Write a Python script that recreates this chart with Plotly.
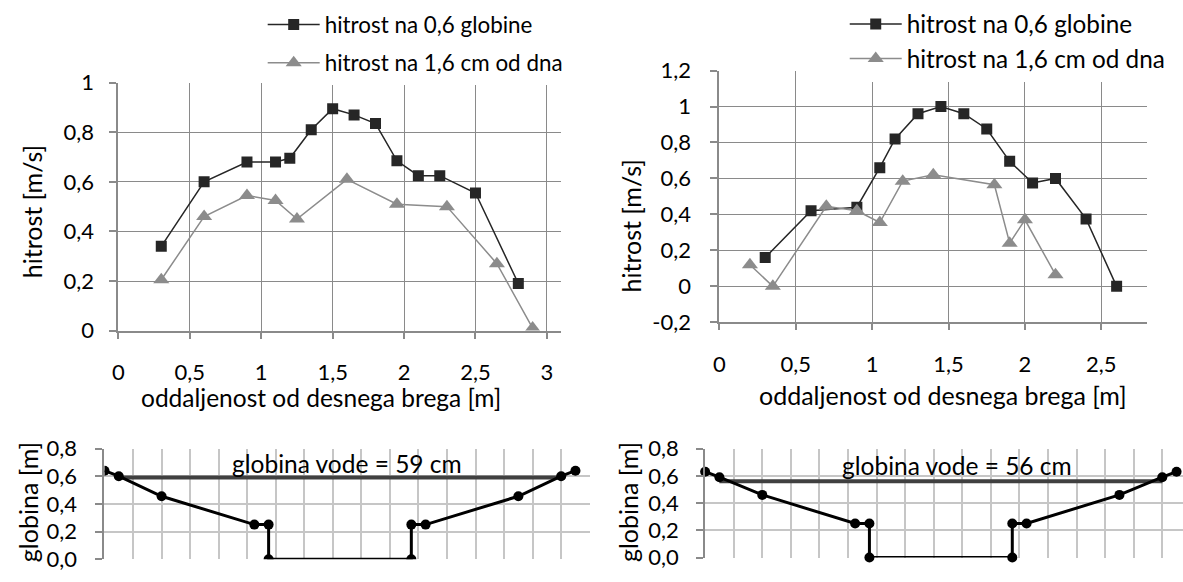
import plotly.graph_objects as go

W, H = 1183, 582

# ---------------- data ----------------
# top-left chart (velocity profile, first section)
x_left_06 = [0.3, 0.6, 0.9, 1.1, 1.2, 1.35, 1.5, 1.65, 1.8, 1.95, 2.1, 2.25, 2.5, 2.8]
v_left_06 = [0.34, 0.60, 0.68, 0.68, 0.695, 0.81, 0.895, 0.87, 0.835, 0.685, 0.625, 0.625, 0.555, 0.19]
x_left_16 = [0.3, 0.6, 0.9, 1.1, 1.25, 1.6, 1.95, 2.3, 2.65, 2.9]
v_left_16 = [0.205, 0.46, 0.545, 0.525, 0.45, 0.61, 0.51, 0.50, 0.27, 0.01]

# top-right chart (velocity profile, second section)
x_right_06 = [0.3, 0.6, 0.9, 1.05, 1.15, 1.3, 1.45, 1.6, 1.75, 1.9, 2.05, 2.2, 2.4, 2.6]
v_right_06 = [0.16, 0.42, 0.44, 0.66, 0.82, 0.96, 1.0, 0.96, 0.875, 0.695, 0.575, 0.6, 0.375, 0.0]
x_right_16 = [0.2, 0.35, 0.7, 0.9, 1.05, 1.2, 1.4, 1.8, 1.9, 2.0, 2.2]
v_right_16 = [0.12, 0.0, 0.445, 0.42, 0.355, 0.585, 0.62, 0.565, 0.24, 0.37, 0.065]

# bottom cross-sections
sec_x = [0, 0.1, 0.4, 1.05, 1.15, 1.15, 2.15, 2.15, 2.25, 2.9, 3.2, 3.3]
sec_y_left = [0.64, 0.6, 0.455, 0.25, 0.25, 0, 0, 0.25, 0.25, 0.455, 0.6, 0.64]
sec_y_right = [0.63, 0.59, 0.46, 0.25, 0.25, 0, 0, 0.25, 0.25, 0.46, 0.59, 0.63]
water_x = [0.1, 3.2]
water_left = 0.59
water_right = 0.56

name_06 = "hitrost na 0,6 globine"
name_16 = "hitrost na 1,6 cm od dna"

tl_xticks = [0, 0.5, 1, 1.5, 2, 2.5, 3]
tl_xtext = ["0", "0,5", "1", "1,5", "2", "2,5", "3"]
tl_yticks = [0, 0.2, 0.4, 0.6, 0.8, 1]
tl_ytext = ["0", "0,2", "0,4", "0,6", "0,8", "1"]
tr_xticks = [0, 0.5, 1, 1.5, 2, 2.5]
tr_xtext = ["0", "0,5", "1", "1,5", "2", "2,5"]
tr_yticks = [-0.2, 0, 0.2, 0.4, 0.6, 0.8, 1, 1.2]
tr_ytext = ["-0,2", "0", "0,2", "0,4", "0,6", "0,8", "1", "1,2"]
b_yticks = [0, 0.2, 0.4, 0.6, 0.8]
b_ytext = ["0,0", "0,2", "0,4", "0,6", "0,8"]
b_xticks = [round(0.2 * i, 1) for i in range(18)]

# ---------------- styling ----------------
FONT = "Lato"
DARK = "#262626"
GREY = "#8c8c8c"
GRID = "#8a8a8a"
LGRID = "#c6c6c6"


def fx(p):
    return p / W


def fy(p):
    return 1 - p / H


fig = go.Figure()

# top-left
fig.add_trace(go.Scatter(x=x_left_06, y=v_left_06, name=name_06, mode="lines+markers",
                         line=dict(color=DARK, width=1.5),
                         marker=dict(symbol="square", size=11, color=DARK),
                         xaxis="x", yaxis="y", legend="legend", legendgroup="a"))
fig.add_trace(go.Scatter(x=x_left_16, y=v_left_16, name=name_16, mode="lines+markers",
                         line=dict(color=GREY, width=1.5),
                         marker=dict(symbol="triangle-up", size=14, color=GREY),
                         xaxis="x", yaxis="y", legend="legend", legendgroup="b"))
# top-right
fig.add_trace(go.Scatter(x=x_right_06, y=v_right_06, name=name_06, mode="lines+markers",
                         line=dict(color=DARK, width=1.5),
                         marker=dict(symbol="square", size=11, color=DARK),
                         xaxis="x2", yaxis="y2", legend="legend2", legendgroup="c"))
fig.add_trace(go.Scatter(x=x_right_16, y=v_right_16, name=name_16, mode="lines+markers",
                         line=dict(color=GREY, width=1.5),
                         marker=dict(symbol="triangle-up", size=14, color=GREY),
                         xaxis="x2", yaxis="y2", legend="legend2", legendgroup="d"))
# bottom-left
fig.add_trace(go.Scatter(x=water_x, y=[water_left, water_left], mode="lines",
                         line=dict(color="#404040", width=4), showlegend=False,
                         xaxis="x3", yaxis="y3"))
fig.add_trace(go.Scatter(x=sec_x, y=sec_y_left, mode="lines+markers",
                         line=dict(color="black", width=3),
                         marker=dict(symbol="circle", size=10, color="black"),
                         showlegend=False, xaxis="x3", yaxis="y3"))
# bottom-right
fig.add_trace(go.Scatter(x=water_x, y=[water_right, water_right], mode="lines",
                         line=dict(color="#404040", width=4), showlegend=False,
                         xaxis="x4", yaxis="y4"))
fig.add_trace(go.Scatter(x=sec_x, y=sec_y_right, mode="lines+markers",
                         line=dict(color="black", width=3),
                         marker=dict(symbol="circle", size=10, color="black"),
                         showlegend=False, xaxis="x4", yaxis="y4", cliponaxis=False))

tickfont = dict(family=FONT, size=22, color="black")

top_x_common = dict(showgrid=True, gridcolor=GRID, gridwidth=1.3, zeroline=False,
                    showline=True, linecolor=GRID, linewidth=2,
                    ticks="outside", ticklen=6, tickcolor=GRID, tickwidth=1.5,
                    tickmode="array", tickfont=tickfont, ticklabelstandoff=15)
top_y_common = dict(showgrid=True, gridcolor=GRID, gridwidth=1.3, zeroline=False,
                    showline=True, linecolor=GRID, linewidth=2,
                    ticks="outside", ticklen=7, tickcolor=GRID, tickwidth=1.5,
                    tickmode="array", tickfont=tickfont)
bot_x_common = dict(showgrid=True, gridcolor=LGRID, gridwidth=1.5, zeroline=False,
                    showline=False, ticks="", showticklabels=False,
                    tickmode="array", tickvals=b_xticks)
bot_y_common = dict(showgrid=True, gridcolor=LGRID, gridwidth=1.5, zeroline=False,
                    showline=True, linecolor=GRID, linewidth=2,
                    ticks="outside", ticklen=7, tickcolor=GRID, tickwidth=1.5,
                    tickmode="array", tickvals=b_yticks, ticktext=b_ytext,
                    tickfont=tickfont, range=[0, 0.8])

fig.update_layout(
    width=W, height=H, margin=dict(l=0, r=0, t=0, b=0),
    paper_bgcolor="white", plot_bgcolor="white",
    font=dict(family=FONT, size=22, color="black"),
    xaxis=dict(domain=[fx(113), fx(558)], range=[0, 3.1], anchor="y",
               tickvals=tl_xticks, ticktext=tl_xtext, **top_x_common),
    yaxis=dict(domain=[fy(332), fy(72)], range=[0, 1], anchor="x",
               tickvals=tl_yticks, ticktext=tl_ytext, ticklabelstandoff=11, **top_y_common),
    xaxis2=dict(domain=[fx(717), fx(1147)], range=[0, 2.8], anchor="y2",
                tickvals=tr_xticks, ticktext=tr_xtext, **top_x_common),
    yaxis2=dict(domain=[fy(323.3), fy(59.3)], range=[-0.2, 1.2], anchor="x2",
                tickvals=tr_yticks, ticktext=tr_ytext, ticklabelstandoff=15, **top_y_common),
    xaxis3=dict(domain=[fx(99), fx(586.7)], range=[0, 3.4], anchor="y3", **bot_x_common),
    yaxis3=dict(domain=[fy(571.7), fy(455.7)], anchor="x3", ticklabelstandoff=14, **bot_y_common),
    xaxis4=dict(domain=[fx(702.7), 1.0], range=[0, 3.345], anchor="y4", **bot_x_common),
    yaxis4=dict(domain=[fy(570), fy(455.7)], anchor="x4", ticklabelstandoff=13, **bot_y_common),
    legend=dict(x=fx(258), y=fy(-11), xanchor="left", yanchor="top",
                bgcolor="white", borderwidth=0, itemwidth=52,
                font=dict(family=FONT, size=22.4, color="black"),
                traceorder="grouped", tracegroupgap=6),
    legend2=dict(x=fx(843), y=fy(-13), xanchor="left", yanchor="top",
                 bgcolor="white", borderwidth=0, itemwidth=52,
                 font=dict(family=FONT, size=24.3, color="black"),
                 traceorder="grouped", tracegroupgap=0),
    showlegend=True,
)

ann = [
    dict(text="hitrost [m/s]", x=fx(27), y=fy(207), textangle=-90, size=25),
    dict(text="hitrost [m/s]", x=fx(628), y=fy(222), textangle=-90, size=25),
    dict(text="globina [m]", x=fx(22), y=fy(512), textangle=-90, size=25),
    dict(text="globina [m]", x=fx(625), y=fy(512), textangle=-90, size=25),
    dict(text="oddaljenost od desnega brega [m]", x=fx(317), y=fy(402), size=24.5),
    dict(text="oddaljenost od desnega brega [m]", x=fx(942), y=fy(400), size=25),
]
for a in ann:
    size = a.pop("size")
    fig.add_annotation(xref="paper", yref="paper", showarrow=False,
                       xanchor="center", yanchor="middle",
                       font=dict(family=FONT, size=size, color="black"), **a)

fig.add_annotation(xref="x3", yref="y3", x=1.7, y=0.69, text="globina vode = 59 cm",
                   showarrow=False, font=dict(family=FONT, size=24.5, color="black"))
fig.add_annotation(xref="x4", yref="y4", x=1.76, y=0.677, text="globina vode = 56 cm",
                   showarrow=False, font=dict(family=FONT, size=24.5, color="black"))

fig.write_html("out.html")
